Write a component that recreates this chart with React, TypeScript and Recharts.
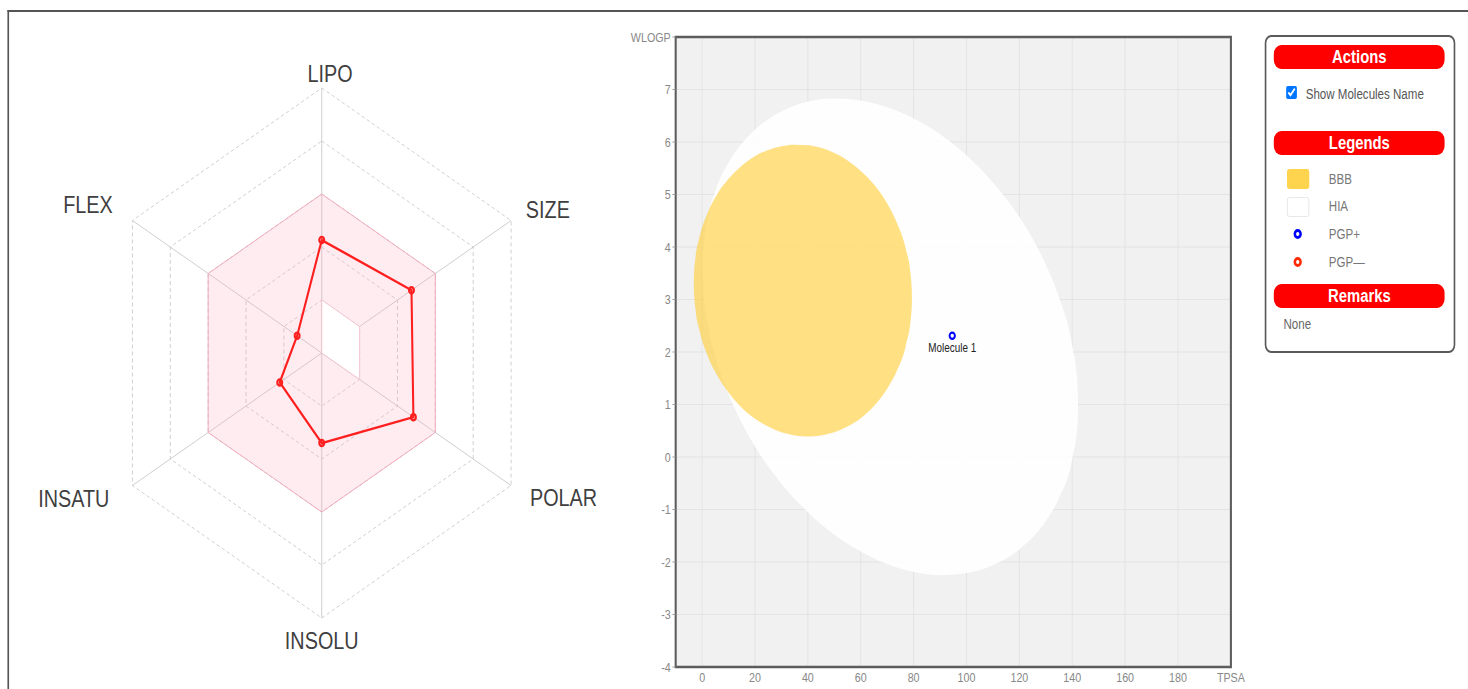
import React from 'react';
import {
  ComposedChart, Area, Scatter, XAxis, YAxis, CartesianGrid, ReferenceArea,
  RadarChart, Radar, PolarGrid, PolarAngleAxis, PolarRadiusAxis,
} from 'recharts';

// bioavailability radar (0..5 scale, rings every unit)
const radarAxes = ['LIPO', 'SIZE', 'POLAR', 'INSOLU', 'INSATU', 'FLEX'];
const moleculeScores = [2.13, 2.37, 2.42, 1.7, 1.11, 0.65];
const optimalUpper = [3, 3, 3, 3, 3, 3];
const optimalLower = [1, 1, 1, 0, 0, 0];

// boiled egg axes
const tpsaTicks = [0, 20, 40, 60, 80, 100, 120, 140, 160, 180, 200];
const wlogpTicks = [-4, -3, -2, -1, 0, 1, 2, 3, 4, 5, 6, 7, 8];

// HIA (egg white) outline
const hiaTpsa = [0.2, 0.5, 2, 5, 10, 15, 20, 30, 40, 50, 60, 70, 80, 90, 100, 110, 120, 130, 135, 140, 141.9, 142.2];
const hiaLow = [3.58, 3.16, 2.57, 1.91, 1.19, 0.65, 0.2, -0.51, -1.05, -1.48, -1.8, -2.04, -2.19, -2.25, -2.21, -2.06, -1.76, -1.22, -0.78, -0.04, 0.59, 0.87];
const hiaHigh = [3.84, 3.99, 4.53, 5.07, 5.61, 5.97, 6.24, 6.58, 6.77, 6.83, 6.79, 6.66, 6.45, 6.15, 5.75, 5.23, 4.57, 3.66, 3.04, 2.12, 1.42, 1.13];

// BBB (yolk) outline
const bbbTpsa = [-3.15, -3.1, -2.5, -1, 2, 6, 10, 15, 20, 25, 30, 35, 40, 45, 50, 55, 60, 65, 70, 74, 77, 79, 79.3, 79.35];
const bbbLow = [3.26, 3.16, 2.81, 2.41, 1.94, 1.53, 1.23, 0.94, 0.73, 0.58, 0.47, 0.41, 0.39, 0.41, 0.47, 0.58, 0.74, 0.97, 1.3, 1.68, 2.11, 2.67, 2.89, 2.98];
const bbbHigh = [3.36, 3.45, 3.8, 4.19, 4.64, 5.03, 5.3, 5.55, 5.73, 5.85, 5.92, 5.95, 5.94, 5.89, 5.79, 5.65, 5.45, 5.19, 4.83, 4.42, 3.97, 3.4, 3.18, 3.08];

const moleculeNames = ['Molecule 1'];
const moleculeTpsa = [94.6];
const moleculeWlogp = [2.31];

const radarData = radarAxes.map((axis, i) => ({
  axis,
  score: moleculeScores[i],
  upper: optimalUpper[i],
  lower: optimalLower[i],
}));
const hiaData = hiaTpsa.map((x, i) => ({ x, range: [hiaLow[i], hiaHigh[i]] }));
const bbbData = bbbTpsa.map((x, i) => ({ x, range: [bbbLow[i], bbbHigh[i]] }));
const moleculeData = moleculeNames.map((name, i) => ({ name, x: moleculeTpsa[i], y: moleculeWlogp[i] }));

// the screenshot is squeezed horizontally
const SQUEEZE = 0.825;
const RADAR_CX = 390;
const RADAR_CY = 353;
const FONT = '"Liberation Sans", Arial, sans-serif';

const AngleTick = (props: any) => {
  const { x, y, payload } = props;
  const dx = x - RADAR_CX;
  const dy = y - RADAR_CY;
  let tx = x;
  let ty = y;
  let anchor = 'middle';
  if (Math.abs(dx) < 2) {
    ty = dy < 0 ? y - 6 : y + 15;
    tx = dy < 0 ? x + 10 : x;
  } else if (dx > 0) {
    anchor = 'start';
    tx = x + (dy < 0 ? 11 : 16);
    ty = y + (dy < 0 ? -7 : 8);
  } else {
    anchor = 'end';
    tx = x - (dy < 0 ? 17 : 21);
    ty = y + (dy < 0 ? -12 : 9);
  }
  return (
    <text x={tx} y={ty} textAnchor={anchor} dominantBaseline="central" fontSize={24} fill="#3f3f3f" fontFamily={FONT}>
      {payload.value}
    </text>
  );
};

const MoleculeDot = (props: any) => {
  const { cx, cy, payload } = props;
  return (
    <g>
      <circle cx={cx} cy={cy} r={3.2} fill="#fff" stroke="#0000ff" strokeWidth={2.3} />
      <text x={cx} y={cy + 12} textAnchor="middle" dominantBaseline="central" fontSize={12} fill="#222" fontFamily={FONT}>
        {payload.name}
      </text>
    </g>
  );
};

const pill: React.CSSProperties = {
  position: 'absolute', left: 9.5, width: 207, height: 24, borderRadius: 9,
  background: '#ff0000', color: '#fff', fontWeight: 'bold', fontSize: 18,
  lineHeight: '24px', textAlign: 'center',
};
const legendText: React.CSSProperties = {
  position: 'absolute', left: 76, fontSize: 14, color: '#777', lineHeight: '16px',
};

export default function App() {
  return (
    <div style={{ position: 'relative', width: 1468, height: 689, overflow: 'hidden', background: '#fff', fontFamily: FONT }}>
      <style>{'html,body{margin:0;overflow:hidden}'}</style>
      <div style={{ position: 'absolute', left: 0, top: 0, width: 1780, height: 689, transform: `scaleX(${SQUEEZE})`, transformOrigin: '0 0' }}>
        {/* outer frame */}
        <div style={{ position: 'absolute', left: 8.5, top: 9.5, width: 1800, height: 700, borderTop: '2px solid #555', borderLeft: '2px solid #555' }} />

        <div style={{ position: 'absolute', left: 0, top: 0 }}>
          <RadarChart width={780} height={689} data={radarData} cx={RADAR_CX} cy={RADAR_CY} outerRadius={265} margin={{ top: 0, right: 0, bottom: 0, left: 0 }}>
            <PolarGrid polarRadius={[0]} stroke="#c9c9c9" />
            <PolarGrid radialLines={false} stroke="#cbcbcb" strokeDasharray="4 3" />
            <PolarRadiusAxis domain={[0, 5]} tickCount={6} tick={false} axisLine={false} />
            <PolarAngleAxis dataKey="axis" tick={<AngleTick />} tickLine={false} axisLine={false} tickSize={0} />
            <Radar dataKey="upper" stroke="#f2a7b8" strokeWidth={1} fill="#f9a8bd" fillOpacity={0.22} isAnimationActive={false} />
            <Radar dataKey="lower" stroke="#f3c3cd" strokeWidth={1} fill="#ffffff" fillOpacity={1} isAnimationActive={false} />
            <Radar
              dataKey="score"
              stroke="#ff1f1f"
              strokeWidth={2.5}
              fill="none"
              fillOpacity={0}
              dot={{ r: 3, fill: '#ff1f1f', stroke: '#ff1f1f' }}
              isAnimationActive={false}
            />
          </RadarChart>
        </div>

        <div style={{ position: 'absolute', left: 750, top: 16 }}>
          <ComposedChart width={760} height={673} margin={{ top: 21, right: 18, bottom: 0, left: 19 }}>
            <CartesianGrid fill="#f1f1f1" stroke="#e2e2e2" />
            <XAxis
              type="number"
              dataKey="x"
              domain={[-10, 200]}
              ticks={tpsaTicks}
              interval={0}
              allowDataOverflow
              height={22}
              tickLine={false}
              axisLine={false}
              tickSize={4}
              tickMargin={2}
              tick={{ fill: '#888', fontSize: 13 }}
              tickFormatter={(v: number) => (v === 200 ? 'TPSA' : String(v))}
            />
            <YAxis
              type="number"
              domain={[-4, 8]}
              ticks={wlogpTicks}
              interval={0}
              allowDataOverflow
              width={50}
              axisLine={false}
              tickLine={{ stroke: '#999' }}
              tickSize={4}
              tickMargin={2}
              tick={{ fill: '#888', fontSize: 13 }}
              tickFormatter={(v: number) => (v === 8 ? 'WLOGP' : String(v))}
            />
            <Area data={hiaData} dataKey="range" type="monotone" stroke="none" fill="#ffffff" fillOpacity={0.9} dot={false} activeDot={false} isAnimationActive={false} />
            <Area data={bbbData} dataKey="range" type="monotone" stroke="none" fill="#ffd040" fillOpacity={0.65} dot={false} activeDot={false} isAnimationActive={false} />
            <Scatter data={moleculeData} dataKey="y" shape={<MoleculeDot />} isAnimationActive={false} />
            <ReferenceArea x1={-10} x2={200} y1={-4} y2={8} fill="none" stroke="#5c5c5c" strokeWidth={2.5} ifOverflow="visible" />
          </ComposedChart>
        </div>

        {/* side panel */}
        <div style={{ position: 'absolute', left: 1532.7, top: 35, width: 231, height: 318, boxSizing: 'border-box', border: '2px solid #5a5a5a', borderRadius: 8 }}>
          <div style={{ ...pill, top: 8 }}>Actions</div>
          <input type="checkbox" checked readOnly style={{ position: 'absolute', left: 24.5, top: 49, width: 13, height: 13, margin: 0 }} />
          <div style={{ position: 'absolute', left: 48, top: 49, fontSize: 14, color: '#555', lineHeight: '16px', whiteSpace: 'nowrap' }}>Show Molecules Name</div>

          <div style={{ ...pill, top: 94 }}>Legends</div>
          <div style={{ position: 'absolute', left: 25, top: 132, width: 27, height: 20, borderRadius: 3, background: '#fed44f' }} />
          <div style={{ ...legendText, top: 134 }}>BBB</div>
          <div style={{ position: 'absolute', left: 25, top: 160, width: 27, height: 20, borderRadius: 3, boxSizing: 'border-box', border: '1px solid #e6e6e6', background: '#fff' }} />
          <div style={{ ...legendText, top: 161 }}>HIA</div>
          <div style={{ position: 'absolute', left: 33.5, top: 191.5, width: 10, height: 10, borderRadius: '50%', boxSizing: 'border-box', border: '3px solid #0000ff' }} />
          <div style={{ ...legendText, top: 189 }}>PGP+</div>
          <div style={{ position: 'absolute', left: 33.5, top: 219.5, width: 10, height: 10, borderRadius: '50%', boxSizing: 'border-box', border: '3px solid #ff2a00' }} />
          <div style={{ ...legendText, top: 217 }}>PGP—</div>

          <div style={{ ...pill, top: 247 }}>Remarks</div>
          <div style={{ position: 'absolute', left: 21, top: 279, fontSize: 14, color: '#666', lineHeight: '16px' }}>None</div>
        </div>
      </div>
    </div>
  );
}
